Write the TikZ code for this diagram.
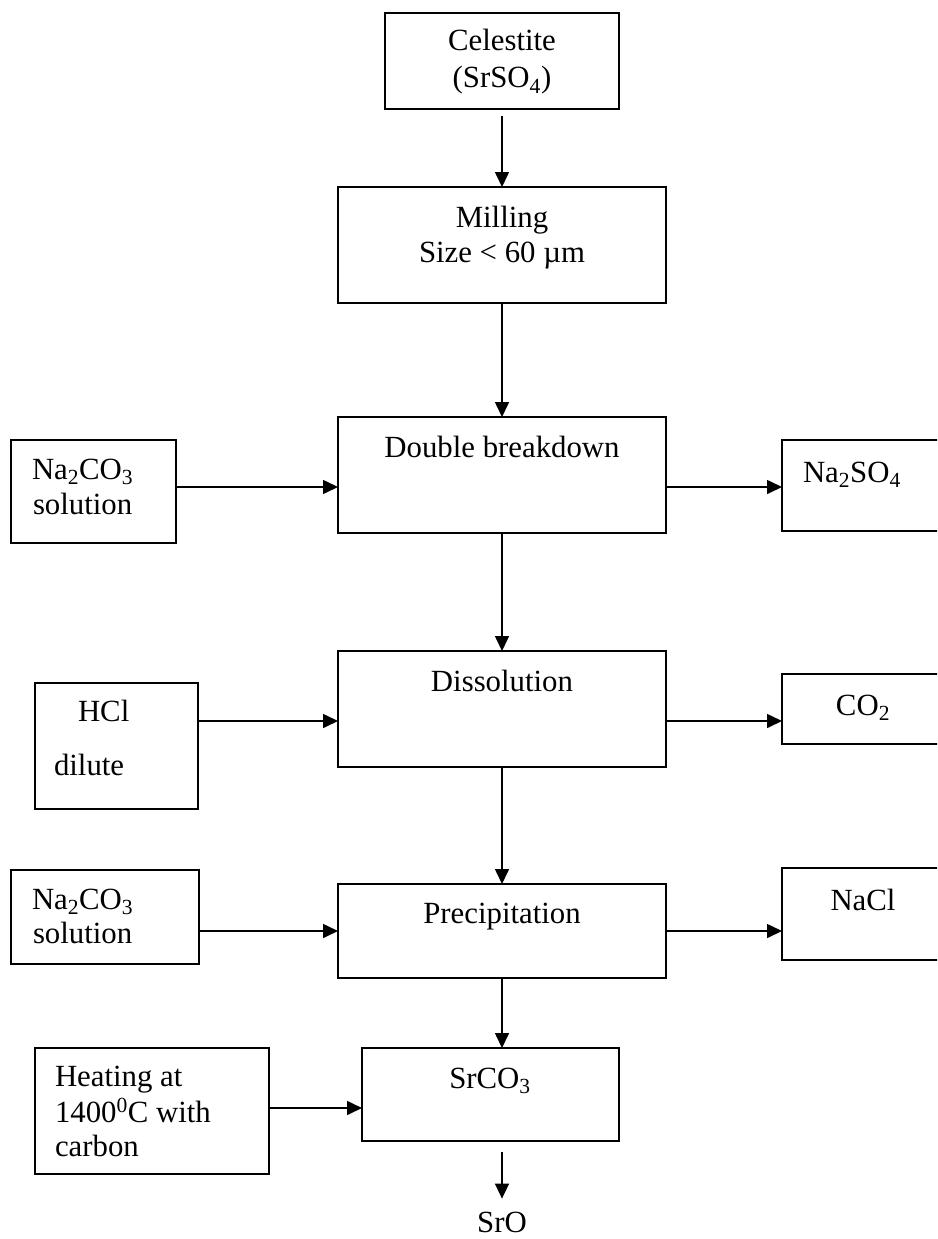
\documentclass[tikz,border=0pt]{standalone}
\usepackage{fontspec}
\setmainfont{Liberation Serif}
\usetikzlibrary{arrows.meta,calc}
\begin{document}
\begin{tikzpicture}[x=1pt,y=-1pt,
  box/.style={draw,line width=1.6pt,rectangle,inner sep=0pt,outer sep=0pt},
  txt/.style={inner sep=0pt,outer sep=0pt,font=\fontsize{30.8pt}{36pt}\selectfont},
  ctxt/.style={txt,anchor=base},
  ltxt/.style={txt,anchor=base west},
  arr/.style={line width=1.6pt,-{Triangle[length=15pt,width=14pt]}}]
\useasboundingbox (0,0) rectangle (937,1239);
\clip (0,0) rectangle (937,1239);
% boxes
\node[box,minimum width=234pt,minimum height=96pt] (cel) at (502,61) {};
\node[box,minimum width=328pt,minimum height=116pt] (mill) at (502,245) {};
\node[box,minimum width=328pt,minimum height=116pt] (db) at (502,475) {};
\node[box,minimum width=328pt,minimum height=116pt] (diss) at (502,709) {};
\node[box,minimum width=328pt,minimum height=94pt] (prec) at (502,931) {};
\node[box,minimum width=257pt,minimum height=93pt] (srco) at (490.5,1094.5) {};
\node[box,minimum width=165pt,minimum height=103pt] (naA) at (93.5,491.5) {};
\node[box,minimum width=163pt,minimum height=126pt] (hcl) at (116.5,746) {};
\node[box,minimum width=188pt,minimum height=94pt] (naB) at (105,917) {};
\node[box,minimum width=234pt,minimum height=126pt] (heat) at (152,1111) {};
\node[box,minimum width=168pt,minimum height=91pt] (naso) at (866,485.5) {};
\node[box,minimum width=168pt,minimum height=70pt] (co) at (866,709) {};
\node[box,minimum width=168pt,minimum height=92pt] (nacl) at (866,914) {};
% texts
\node[ctxt] (t1) at (502,51) {Celestite};
\node[ctxt] (t2) at (502,88) {(SrSO\textsubscript{4})};
\node[ctxt] (t3) at (502,227) {Milling};
\node[ctxt] (t4) at (502,262) {Size < 60 µm};
\node[ctxt] (t5) at (502,457) {Double breakdown};
\node[ctxt] (t6) at (502,691) {Dissolution};
\node[ctxt] (t7) at (502,923) {Precipitation};
\node[ctxt] (t8) at (490,1088) {SrCO\textsubscript{3}};
\node[ltxt] (t9) at (32,479) {Na\textsubscript{2}CO\textsubscript{3}};
\node[ltxt] (t10) at (33,514) {solution};
\node[ltxt] (t11) at (78,721) {HCl};
\node[ltxt] (t12) at (54,775) {dilute};
\node[ltxt] (t13) at (32,909) {Na\textsubscript{2}CO\textsubscript{3}};
\node[ltxt] (t14) at (33,943) {solution};
\node[ltxt] (t15) at (55,1086) {Heating at};
\node[ltxt] (t16) at (55,1122) {1400\textsuperscript{0}C with};
\node[ltxt] (t17) at (55,1156) {carbon};
\node[ltxt] (t18) at (803,482) {Na\textsubscript{2}SO\textsubscript{4}};
\node[ctxt] (t19) at (863,715) {CO\textsubscript{2}};
\node[ctxt] (t20) at (863,910) {NaCl};
\node[ctxt] (sro) at (502,1232) {SrO};
% connectors
\draw[arr,shorten <=7pt] (cel.south) -- (mill.north);
\draw[arr] (mill.south) -- (db.north);
\draw[arr] ([yshift=4.5pt]naA.east) -- ([yshift=4.5pt]naA.east -| db.west);
\draw[arr] ([yshift=-12pt]db.east) -- ([yshift=-12pt]db.east -| naso.west);
\draw[arr] (db.south) -- (diss.north);
\draw[arr] ([yshift=25pt]hcl.east) -- ([yshift=25pt]hcl.east -| diss.west);
\draw[arr] ([yshift=-12pt]diss.east) -- ([yshift=-12pt]diss.east -| co.west);
\draw[arr] (diss.south) -- (prec.north);
\draw[arr] (naB.east |- prec.west) -- (prec.west);
\draw[arr] (prec.east) -- (prec.east -| nacl.west);
\draw[arr] (prec.south) -- (prec.south |- srco.north);
\draw[arr] ([yshift=3pt]heat.east) -- ([yshift=3pt]heat.east -| srco.west);
\draw[arr,shorten <=11pt,shorten >=13pt] (srco.south -| sro.north) -- (sro.north);
\end{tikzpicture}
\end{document}
